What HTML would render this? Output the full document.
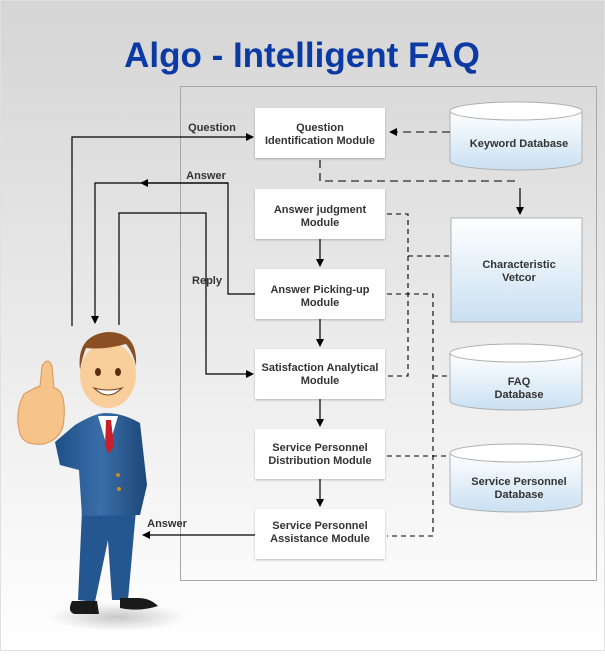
<!DOCTYPE html>
<html><head><meta charset="utf-8"><style>
html,body{margin:0;padding:0;}
body{width:605px;height:651px;overflow:hidden;font-family:"Liberation Sans",sans-serif;}
</style></head><body>
<svg width="605" height="651" viewBox="0 0 605 651" xmlns="http://www.w3.org/2000/svg" font-family="Liberation Sans, sans-serif">
<defs>
<linearGradient id="bg" x1="0" y1="0" x2="0" y2="1">
<stop offset="0" stop-color="#d5d5d5"/><stop offset="0.55" stop-color="#ececec"/><stop offset="1" stop-color="#ffffff"/></linearGradient>
<linearGradient id="db" x1="0" y1="0" x2="0" y2="1">
<stop offset="0" stop-color="#ffffff"/><stop offset="1" stop-color="#c9e0f2"/></linearGradient>
<linearGradient id="suit" x1="0" y1="0" x2="1" y2="0">
<stop offset="0" stop-color="#1f4f86"/><stop offset="0.5" stop-color="#3a6ea8"/><stop offset="1" stop-color="#1c4778"/></linearGradient>
<radialGradient id="sh"><stop offset="0" stop-color="#c8c8c8"/><stop offset="1" stop-color="#c8c8c8" stop-opacity="0"/></radialGradient>
<marker id="a" markerWidth="8" markerHeight="8" refX="7" refY="4" orient="auto" markerUnits="userSpaceOnUse"><path d="M0,0 L8,4 L0,8z" fill="#000"/></marker>
<filter id="ds" x="-10%" y="-10%" width="120%" height="130%"><feDropShadow dx="0" dy="1" stdDeviation="1" flood-opacity="0.25"/></filter>
</defs>
<rect width="605" height="651" fill="url(#bg)"/>
<rect x="0.5" y="0.5" width="604" height="650" fill="none" stroke="#e0e0e0"/>
<text x="302" y="67" text-anchor="middle" font-size="35" font-weight="bold" fill="#0b3aa5">Algo - Intelligent FAQ</text>
<rect x="180.5" y="86.5" width="416" height="494" fill="none" stroke="#a8a8a8"/>

<g font-size="11" font-weight="bold" fill="#333" text-anchor="middle">
<g filter="url(#ds)" fill="#fff">
<rect x="255" y="108" width="130" height="50"/>
<rect x="255" y="189" width="130" height="50"/>
<rect x="255" y="269" width="130" height="50"/>
<rect x="255" y="349" width="130" height="50"/>
<rect x="255" y="429" width="130" height="50"/>
<rect x="255" y="509" width="130" height="50"/>
</g>
<text x="320" y="131">Question</text><text x="320" y="144">Identification Module</text>
<text x="320" y="213">Answer judgment</text><text x="320" y="226">Module</text>
<text x="320" y="293">Answer Picking-up</text><text x="320" y="306">Module</text>
<text x="320" y="371">Satisfaction Analytical</text><text x="320" y="384">Module</text>
<text x="320" y="451">Service Personnel</text><text x="320" y="464">Distribution Module</text>
<text x="320" y="529">Service Personnel</text><text x="320" y="542">Assistance Module</text>

<g stroke="#b0b0b0" fill="url(#db)">
<path d="M450,111 v50 a66,9 0 0 0 132,0 v-50"/><ellipse cx="516" cy="111" rx="66" ry="9" fill="#fff"/>
<rect x="451" y="218" width="131" height="104"/>
<path d="M450,353 v48 a66,9 0 0 0 132,0 v-48"/><ellipse cx="516" cy="353" rx="66" ry="9" fill="#fff"/>
<path d="M450,453 v50 a66,9 0 0 0 132,0 v-50"/><ellipse cx="516" cy="453" rx="66" ry="9" fill="#fff"/>
</g>
<text x="519" y="147">Keyword Database</text>
<text x="519" y="268">Characteristic</text><text x="519" y="281">Vetcor</text>
<text x="519" y="385">FAQ</text><text x="519" y="398">Database</text>
<text x="519" y="485">Service Personnel</text><text x="519" y="498">Database</text>

<text x="212" y="131">Question</text>
<text x="206" y="179">Answer</text>
<text x="207" y="284">Reply</text>
<text x="167" y="527">Answer</text>
</g>

<g stroke="#000" stroke-width="1.2" fill="none">
<path d="M72,326 V137 H253" marker-end="url(#a)"/>
<path d="M255,294 H228 V183 H95 V323" marker-end="url(#a)"/>
<path d="M228,183 H141" marker-end="url(#a)"/>
<path d="M119,325 V213 H206 V374 H253" marker-end="url(#a)"/>
<path d="M320,239 V266" marker-end="url(#a)"/>
<path d="M320,319 V346" marker-end="url(#a)"/>
<path d="M320,399 V426" marker-end="url(#a)"/>
<path d="M320,479 V506" marker-end="url(#a)"/>
<path d="M255,535 H143" marker-end="url(#a)"/>
</g>
<g stroke="#000" stroke-width="1.1" fill="none" stroke-dasharray="8,5">
<path d="M450,132 H390" marker-end="url(#a)"/>
<path d="M320,160 V181 H520"/>
</g>
<path d="M520,188 V214" stroke="#000" stroke-width="1.2" marker-end="url(#a)"/>
<g stroke="#000" stroke-width="1.1" fill="none" stroke-dasharray="5,4">
<path d="M387,214 H408 V376 H387"/>
<path d="M408,256 H451"/>
<path d="M387,294 H433 V536 H387"/>
<path d="M433,376 H450"/>
<path d="M387,456 H450"/>
</g>

<!-- person -->
<ellipse cx="118" cy="617" rx="68" ry="14" fill="url(#sh)"/>
<path d="M82,510 L78,600 L95,602 L108,540 L112,600 L128,600 L136,510z" fill="#24578f"/>
<path d="M72,601 q-5,10 2,13 h25 l-2,-13z" fill="#1a1a1a"/>
<path d="M120,598 l0,10 q20,4 38,-2 q-8,-8 -20,-8z" fill="#1a1a1a"/>
<path d="M75,425 q20,-12 30,-12 q18,0 35,10 L147,485 L140,515 L82,516 L79,470 L60,465 L55,442z" fill="url(#suit)"/>
<path d="M98,416 L108,450 L118,416z" fill="#fff"/>
<path d="M106,420 h5 l3,26 -5,8 -4,-8z" fill="#c8202c"/>
<circle cx="118" cy="475" r="2" fill="#c89020"/><circle cx="119" cy="489" r="2" fill="#c89020"/>
<path d="M42,366 q6,-10 10,0 l2,22 q12,2 10,30 q0,20 -20,26 q-20,2 -24,-10 q-6,-22 4,-40 q10,-6 16,-8z" fill="#f6c48a" stroke="#d9954f" stroke-width="1"/>
<ellipse cx="108" cy="375" rx="28" ry="33" fill="#f8cf9a"/>
<path d="M80,370 q-4,-35 28,-38 q30,0 28,34 q-3,-14 -10,-22 q-22,6 -40,4 q-4,10 -6,22z" fill="#8a4f22"/>
<ellipse cx="98" cy="372" rx="3" ry="4" fill="#5a3010"/><ellipse cx="118" cy="372" rx="3" ry="4" fill="#5a3010"/>
<path d="M94,388 q14,14 28,0 q-14,4 -28,0z" fill="#fff" stroke="#7a3a20" stroke-width="1"/>
</svg>
</body></html>
